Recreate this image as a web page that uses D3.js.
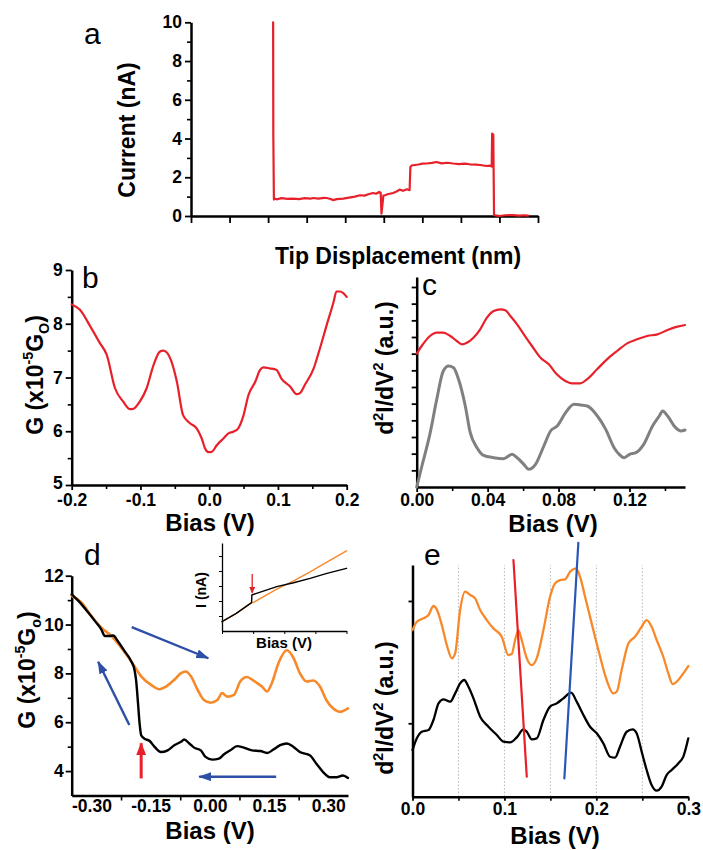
<!DOCTYPE html>
<html><head><meta charset="utf-8">
<script src="https://cdn.jsdelivr.net/npm/d3@7"></script>
<style>body{margin:0;background:#fff} svg text{font-family:"Liberation Sans",Arial,sans-serif;}</style>
</head><body><svg id="fig" width="703" height="850"></svg>
<script>
// ---------------- DATA ----------------
// panel a : current vs tip displacement (x in tick units)
const aX = [2.13,2.135,2.15,2.17,2.22,2.35,2.5,2.65,2.8,2.95,3.1,3.17,3.3,3.45,3.52,3.62,3.69,3.78,3.95,4.1,4.25,4.38,4.5,4.6,4.72,4.8,4.88,4.92,4.94,4.96,4.99,5.03,5.1,5.24,5.32,5.41,5.5,5.6,5.67,5.69,5.72,5.76,5.9,6.0,6.11,6.25,6.37,6.5,6.65,6.8,6.95,7.1,7.23,7.4,7.55,7.66,7.75,7.8,7.81,7.84,7.86,7.9,7.95,8.0,8.15,8.35,8.5,8.65,8.74];
const aY = [10,4.2,0.85,0.9,0.86,0.92,0.88,0.9,0.87,0.92,0.9,0.93,0.9,0.94,0.93,0.88,0.82,0.87,0.9,0.95,1.0,1.07,1.05,1.12,1.19,1.15,1.24,1.2,0.12,0.5,1.05,1.07,1.12,1.19,1.25,1.36,1.3,1.38,1.33,2.53,2.6,2.62,2.66,2.7,2.71,2.74,2.79,2.72,2.75,2.71,2.68,2.7,2.67,2.65,2.62,2.58,2.6,2.55,4.25,4.2,0.05,0.03,0.02,0.0,0.04,0.05,0.02,0.04,0.02];
const aYTicks = [0,2,4,6,8,10];

// panel b : G vs bias
const bX = [-0.2,-0.188,-0.173,-0.159,-0.149,-0.137,-0.125,-0.115,-0.110,-0.101,-0.091,-0.081,-0.072,-0.067,-0.062,-0.055,-0.047,-0.038,-0.028,-0.018,-0.011,-0.006,-0.001,0.004,0.011,0.021,0.028,0.035,0.042,0.050,0.057,0.067,0.074,0.079,0.088,0.098,0.105,0.118,0.127,0.132,0.139,0.152,0.161,0.171,0.181,0.185,0.190,0.195,0.2];
const bY = [8.36,8.26,7.95,7.64,7.42,6.8,6.55,6.41,6.42,6.55,6.80,7.23,7.48,7.50,7.47,7.30,6.92,6.30,6.15,6.05,5.87,5.68,5.61,5.62,5.74,5.87,5.96,5.99,6.05,6.30,6.67,6.92,7.14,7.19,7.17,7.14,6.98,6.83,6.69,6.71,6.86,7.17,7.54,7.98,8.41,8.60,8.60,8.57,8.50];
const bXTicks = [-0.2,-0.1,0,0.1,0.2];
const bYTicks = [5,6,7,8,9];

// panel c : d2I/dV2 (a.u.)
const cXRed = [0,0.0028,0.0075,0.0113,0.015,0.0189,0.0226,0.0255,0.0283,0.032,0.0358,0.0396,0.0434,0.0472,0.05,0.0528,0.0566,0.0604,0.065,0.0698,0.0745,0.079,0.0838,0.0875,0.0923,0.096,0.1017,0.1073,0.113,0.1187,0.1243,0.13,0.1358,0.1415,0.147,0.1513];
const cRed = [4.0,4.23,4.53,4.63,4.63,4.53,4.38,4.28,4.33,4.48,4.73,5.08,5.28,5.33,5.30,5.13,4.88,4.58,4.23,3.88,3.68,3.38,3.18,3.11,3.11,3.23,3.53,3.83,4.08,4.31,4.43,4.53,4.58,4.71,4.81,4.86];
const cXGray = [0,0.0028,0.0075,0.0113,0.015,0.018,0.0208,0.0236,0.0274,0.0302,0.034,0.0377,0.0434,0.049,0.0538,0.0566,0.0604,0.0632,0.067,0.0717,0.0755,0.0792,0.084,0.0887,0.0925,0.0962,0.1019,0.1066,0.1113,0.1142,0.117,0.12,0.1236,0.128,0.133,0.1368,0.1387,0.1415,0.146,0.149,0.1513];
const cGray = [0,0.6,1.6,2.63,3.48,3.63,3.58,3.23,2.43,1.63,1.18,0.95,0.88,0.85,0.98,0.88,0.68,0.53,0.68,1.23,1.68,1.83,2.23,2.48,2.46,2.43,2.13,1.73,1.18,0.98,0.88,0.98,1.03,1.28,1.83,2.13,2.28,2.13,1.78,1.68,1.71];
const cXTicks = [0,0.04,0.08,0.12];

// panel d : G vs bias, forward / backward sweep
const dXBlack = [-0.35,-0.333,-0.308,-0.291,-0.275,-0.266,-0.254,-0.245,-0.233,-0.216,-0.199,-0.191,-0.187,-0.182,-0.178,-0.174,-0.166,-0.153,-0.14,-0.124,-0.107,-0.09,-0.073,-0.065,-0.052,-0.04,-0.023,-0.011,0.006,0.023,0.036,0.052,0.069,0.086,0.107,0.128,0.145,0.161,0.178,0.195,0.212,0.228,0.254,0.27,0.287,0.304,0.321,0.337,0.35];
const dBlack = [11.24,10.97,10.49,10.14,9.80,9.53,9.53,9.55,9.32,8.91,8.49,8.15,7.74,6.78,5.95,5.47,5.33,5.24,4.99,4.78,4.85,5.06,5.20,5.29,5.13,4.96,4.85,4.58,4.47,4.51,4.69,4.85,5.02,4.96,4.85,4.82,4.74,4.88,5.06,5.13,4.99,4.78,4.64,4.30,3.96,3.75,3.75,3.82,3.72];
const dXOrange = [-0.35,-0.325,-0.3,-0.275,-0.249,-0.224,-0.199,-0.174,-0.149,-0.128,-0.111,-0.09,-0.073,-0.061,-0.048,-0.031,-0.015,0.002,0.019,0.031,0.044,0.061,0.077,0.094,0.107,0.12,0.132,0.145,0.157,0.174,0.195,0.212,0.228,0.245,0.262,0.279,0.295,0.312,0.329,0.35];
const dOrange = [11.18,10.90,10.35,9.87,9.53,9.04,8.49,7.88,7.53,7.35,7.46,7.74,8.01,8.08,7.88,7.33,6.91,6.80,6.91,7.19,7.05,7.12,7.67,7.85,7.74,7.60,7.46,7.26,7.60,8.43,8.95,8.63,8.01,7.67,7.71,7.46,6.91,6.57,6.43,6.57];
const dXTicks = [-0.30,-0.15,0,0.15,0.30];
const dYTicks = [4,6,8,10,12];
// inset of d : I vs bias (a.u.)
const insXBlack = [0,0.46,0.95,0.96,1.11,1.76,2.3,2.83,3.37,4];
const insBlack = [0.62,1.18,1.89,2.4,2.51,2.96,3.22,3.51,3.84,4.18];
const insXOrange = [0,0.46,0.95,1.0,1.76,2.3,2.83,3.37,4];
const insOrange = [0.62,1.18,1.89,1.89,2.8,3.35,3.95,4.6,5.35];

// panel e : d2I/dV2 (a.u.)
const eXOrange = [0,0.0047,0.012,0.0174,0.0228,0.0264,0.0319,0.0373,0.0428,0.0464,0.0518,0.0572,0.0627,0.0681,0.0736,0.0808,0.088,0.0971,0.1043,0.108,0.1116,0.1152,0.1188,0.1243,0.1297,0.1351,0.1424,0.1496,0.1551,0.1605,0.166,0.1714,0.1779,0.1822,0.1877,0.1949,0.2022,0.2112,0.2184,0.2221,0.2275,0.2348,0.242,0.2493,0.2547,0.2601,0.2656,0.2728,0.2783,0.283,0.2891,0.2946,0.3];
const eOrange = [13.62,14.3,14.58,14.85,15.59,15.31,14.03,12.40,11.31,11.72,15.26,16.76,16.49,16.21,15.26,14.44,13.76,13.08,11.58,11.66,12.81,13.62,12.81,11.31,10.76,11.31,13.62,16.35,17.44,17.71,17.77,18.39,18.66,17.98,16.35,14.17,11.99,9.54,8.45,8.58,10.35,12.53,13.08,13.90,14.44,13.90,12.81,11.44,10.08,9.21,9.54,10.08,10.68];
const eXBlack = [0,0.0047,0.0101,0.0174,0.0228,0.0283,0.0337,0.041,0.0464,0.0518,0.0562,0.0609,0.0663,0.0736,0.0826,0.0917,0.0989,0.1062,0.1134,0.1207,0.1243,0.1297,0.1351,0.1424,0.1496,0.1569,0.1641,0.1725,0.1786,0.1859,0.1931,0.2004,0.2076,0.2149,0.2203,0.2257,0.233,0.2395,0.2438,0.2493,0.2547,0.2601,0.2656,0.271,0.2764,0.2819,0.2891,0.2946,0.3];
const eBlack = [3.81,4.77,5.31,5.45,6.27,7.63,7.96,7.77,8.45,9.26,9.54,8.99,8.04,6.54,5.72,5.04,4.50,4.44,4.85,5.50,5.31,4.69,4.77,6.27,7.36,7.63,8.04,8.50,7.77,6.68,5.72,5.18,4.36,3.27,3.19,4.09,5.31,5.50,5.18,3.68,2.18,0.95,0.49,0.82,1.77,2.18,2.72,3.27,4.77];
const eXTicks = [0,0.1,0.2,0.3];
const eGrid = [0.05,0.1,0.15,0.2,0.25];
const eRedLineX = [0.1098,0.1243], eRedLineY = [19.35,1.63];
const eBlueLineX = [0.1804,0.1652], eBlueLineY = [20.76,1.5];

// ---------------- DRAWING ----------------
const RED = "#e8202a", ORANGE = "#f7892b", GRAY = "#808080", BLUE = "#2d4fa6";
const svg = d3.select("#fig");
svg.append("rect").attr("width",703).attr("height",850).attr("fill","#fff");

const defs = svg.append("defs");
function marker(id, color, len, wid){
  defs.append("marker").attr("id",id).attr("markerUnits","userSpaceOnUse")
    .attr("viewBox",`0 0 ${len} ${wid}`).attr("refX",len-1).attr("refY",wid/2)
    .attr("markerWidth",len).attr("markerHeight",wid).attr("orient","auto")
    .append("path").attr("d",`M0,0L${len},${wid/2}L0,${wid}Z`).attr("fill",color);
}
marker("arB", BLUE, 13, 9);
marker("arR", RED, 13, 10);
marker("arRs", RED, 7, 6);

function styleAxis(g, fs, sw, tw){
  g.attr("font-family",null).attr("font-size",null);
  g.select(".domain").attr("stroke","#000").attr("stroke-width",sw);
  g.selectAll(".tick line").attr("stroke","#000").attr("stroke-width",tw);
  g.selectAll(".tick text").attr("font-size",fs).attr("font-weight","bold").attr("fill","#000");
  return g;
}
function addAxis(gen, tx, ty, fs=17.5, sw=2.5, tw=1.8){
  const g = svg.append("g").attr("transform",`translate(${tx},${ty})`).call(gen);
  return styleAxis(g, fs, sw, tw);
}
function minor(gen, tx, ty, tw=1.6){
  const g = svg.append("g").attr("transform",`translate(${tx},${ty})`).call(gen);
  g.select(".domain").remove();
  g.selectAll(".tick line").attr("stroke","#000").attr("stroke-width",tw);
  g.selectAll("text").remove();
  return g;
}
const fmt = f => (v => d3.format(f)(v).replace("\u2212","-"));
function line(x,y,xs,ys,color,w,curve=d3.curveMonotoneX){
  svg.append("path").datum(d3.zip(xs,ys))
    .attr("d", d3.line().x(d=>x(d[0])).y(d=>y(d[1])).curve(curve))
    .attr("fill","none").attr("stroke",color).attr("stroke-width",w)
    .attr("stroke-linejoin","round").attr("stroke-linecap","round");
}
function text(x,y,str,opt={}){
  const t = svg.append("text").attr("x",x).attr("y",y).text(str)
    .attr("font-size",opt.fs||23).attr("font-weight",opt.fw||"bold")
    .attr("text-anchor",opt.anchor||"middle").attr("fill","#000");
  return t;
}
function letter(x,y,s){ text(x,y,s,{fs:30,fw:"normal",anchor:"start"}); }
// rotated label built from parts [str, shift] (shift: 0 normal, 1 sup, -1 sub)
function rlabel(cx, cy, parts, fs=23){
  const t = svg.append("text").attr("transform",`translate(${cx},${cy}) rotate(-90)`)
    .attr("text-anchor","middle").attr("font-size",fs).attr("font-weight","bold").attr("fill","#000");
  let cur = 0;
  parts.forEach(([s,k])=>{
    const target = k===1 ? -0.42*fs : (k===-1 ? 0.25*fs : 0);
    t.append("tspan").attr("dy", target-cur).attr("font-size", k? fs*0.62 : fs).text(s);
    cur = target;
  });
  return t;
}

// ===== panel a =====
{
  const x = d3.scaleLinear().domain([0,9]).range([191,538]);
  const y = d3.scaleLinear().domain([0,10]).range([216,22.3]);
  minor(d3.axisLeft(y).tickValues([1,3,5,7,9]).tickSize(4).tickSizeOuter(0), 191, 0);
  addAxis(d3.axisLeft(y).tickValues(aYTicks).tickSize(6).tickPadding(3).tickSizeOuter(0), 191, 0);
  addAxis(d3.axisBottom(x).tickValues(d3.range(0,10)).tickSize(7).tickFormat("").tickSizeOuter(0), 0, 216);
  line(x,y,aX,aY,RED,2.2,d3.curveLinear);
  text(398,264,"Tip Displacement (nm)");
  rlabel(135,130,[["Current (nA)",0]]);
  letter(84,44,"a");
}

// ===== panel b =====
{
  const x = d3.scaleLinear().domain([-0.2,0.2]).range([71.7,346.7]);
  const y = d3.scaleLinear().domain([5,9]).range([485,270]);
  minor(d3.axisLeft(y).tickValues([5.5,6.5,7.5,8.5]).tickSize(4).tickSizeOuter(0), 71.7, 0);
  const gy = addAxis(d3.axisLeft(y).tickValues(bYTicks).tickSize(6).tickPadding(3).tickFormat(fmt("d")).tickSizeOuter(0), 71.7, 0);
  gy.selectAll(".tick text").filter(d=>d===5).attr("dy","0.2em");
  minor(d3.axisBottom(x).tickValues([-0.15,-0.05,0.05,0.15]).tickSize(4).tickSizeOuter(0), 0, 485);
  addAxis(d3.axisBottom(x).tickValues(bXTicks).tickSize(5).tickPadding(4).tickFormat(fmt(".1f")).tickSizeOuter(0), 0, 485);
  line(x,y,bX,bY,RED,2.2);
  text(210,531,"Bias (V)",{fs:24});
  rlabel(43,375,[["G (x10",0],["-5",1],["G",0],["O",-1],[")",0]]);
  letter(82,288,"b");
}

// ===== panel c =====
{
  const x = d3.scaleLinear().domain([0,0.1513]).range([416.7,685]);
  const y = d3.scaleLinear().domain([0,6.3]).range([487,277]);
  addAxis(d3.axisLeft(y).tickValues(d3.range(0.5,6.3,0.5)).tickSize(5).tickFormat("").tickSizeOuter(0), 416.7, 0);
  minor(d3.axisBottom(x).tickValues([0.02,0.06,0.1,0.14]).tickSize(4).tickSizeOuter(0), 0, 487);
  addAxis(d3.axisBottom(x).tickValues(cXTicks).tickSize(5).tickPadding(2).tickFormat(fmt(".2f")).tickSizeOuter(0), 0, 487);
  line(x,y,cXRed,cRed,RED,2.2);
  line(x,y,cXGray,cGray,GRAY,3);
  text(553,532,"Bias (V)",{fs:24});
  rlabel(393,368,[["d",0],["2",1],["I/dV",0],["2",1],[" (a.u.)",0]]);
  letter(422,295,"c");
}

// ===== panel d =====
{
  const x = d3.scaleLinear().domain([-0.35,0.35]).range([71.7,348]);
  const y = d3.scaleLinear().domain([3,12]).range([795.5,575.7]);
  minor(d3.axisLeft(y).tickValues([5,7,9,11]).tickSize(4).tickSizeOuter(0), 71.7, 0);
  addAxis(d3.axisLeft(y).tickValues(dYTicks).tickSize(6).tickPadding(2).tickFormat(fmt("d")).tickSizeOuter(0), 71.7, 0);
  minor(d3.axisBottom(x).tickValues([-0.225,-0.075,0.075,0.225]).tickSize(5).tickSizeOuter(0), 0, 795.5);
  addAxis(d3.axisBottom(x).tickValues(dXTicks).tickSize(0).tickPadding(4).tickFormat(fmt(".2f")).tickSizeOuter(0), 0, 795.5);
  line(x,y,dXOrange,dOrange,ORANGE,2.6);
  line(x,y,dXBlack,dBlack,"#000",2.4);
  // annotation arrows
  const arrow = (x1,y1,x2,y2,c,w,m)=>svg.append("line").attr("x1",x(x1)).attr("y1",y(y1)).attr("x2",x(x2)).attr("y2",y(y2))
      .attr("stroke",c).attr("stroke-width",w).attr("marker-end",`url(#${m})`);
  arrow(-0.198,9.89,-0.004,8.62,BLUE,2.4,"arB");
  arrow(-0.204,5.89,-0.283,8.48,BLUE,2.4,"arB");
  arrow(0.168,3.77,-0.027,3.77,BLUE,2.6,"arB");
  arrow(-0.174,3.70,-0.174,5.14,RED,3,"arR");
  text(210,839,"Bias (V)",{fs:24});
  rlabel(35,670,[["G (x10",0],["-5",1],["G",0],["o",-1],[")",0]]);
  letter(84,565,"d");

  // inset
  const ix = d3.scaleLinear().domain([0,4]).range([222,346.5]);
  const iy = d3.scaleLinear().domain([0,5.87]).range([631,543]);
  addAxis(d3.axisLeft(iy).tickValues([1,2,3,4,5]).tickSize(3).tickFormat("").tickSizeOuter(0), 222, 0, 12, 1.3, 1);
  addAxis(d3.axisBottom(ix).tickValues([0,1,2,3,4]).tickSize(3).tickFormat("").tickSizeOuter(0), 0, 631, 12, 1.3, 1);
  line(ix,iy,insXOrange,insOrange,ORANGE,1.4,d3.curveLinear);
  line(ix,iy,insXBlack,insBlack,"#000",1.4,d3.curveLinear);
  svg.append("line").attr("x1",ix(0.97)).attr("y1",iy(3.8)).attr("x2",ix(0.97)).attr("y2",iy(2.55))
    .attr("stroke",RED).attr("stroke-width",1.3).attr("marker-end","url(#arRs)");
  text(284,648,"Bias (V)",{fs:15});
  rlabel(206,590,[["I (nA)",0]],14);
}

// ===== panel e =====
{
  const x = d3.scaleLinear().domain([0,0.3]).range([412.5,688.3]);
  const y = d3.scaleLinear().domain([0,18.94]).range([796.7,565]);
  svg.append("g").selectAll("line").data(eGrid).join("line")
    .attr("x1",d=>x(d)).attr("x2",d=>x(d)).attr("y1",y(0)).attr("y2",y(18.94))
    .attr("stroke","#b5b5b5").attr("stroke-width",1).attr("stroke-dasharray","1.5,2");
  addAxis(d3.axisLeft(y).tickValues([6,16]).tickSize(4).tickFormat("").tickSizeOuter(0), 412.5, 0);
  minor(d3.axisBottom(x).tickValues([0.05,0.15,0.25]).tickSize(4).tickSizeOuter(0), 0, 796.7);
  addAxis(d3.axisBottom(x).tickValues(eXTicks).tickSize(4).tickPadding(2).tickFormat(fmt(".1f")).tickSizeOuter(0), 0, 796.7);
  line(x,y,eXOrange,eOrange,ORANGE,2.3);
  line(x,y,eXBlack,eBlack,"#000",2.3);
  line(x,y,eRedLineX,eRedLineY,RED,2.2,d3.curveLinear);
  line(x,y,eBlueLineX,eBlueLineY,"#2a56b8",2.2,d3.curveLinear);
  text(555,844,"Bias (V)",{fs:24});
  rlabel(393,708,[["d",0],["2",1],["I/dV",0],["2",1],[" (a.u.)",0]]);
  letter(424,565,"e");
}
</script></body></html>
